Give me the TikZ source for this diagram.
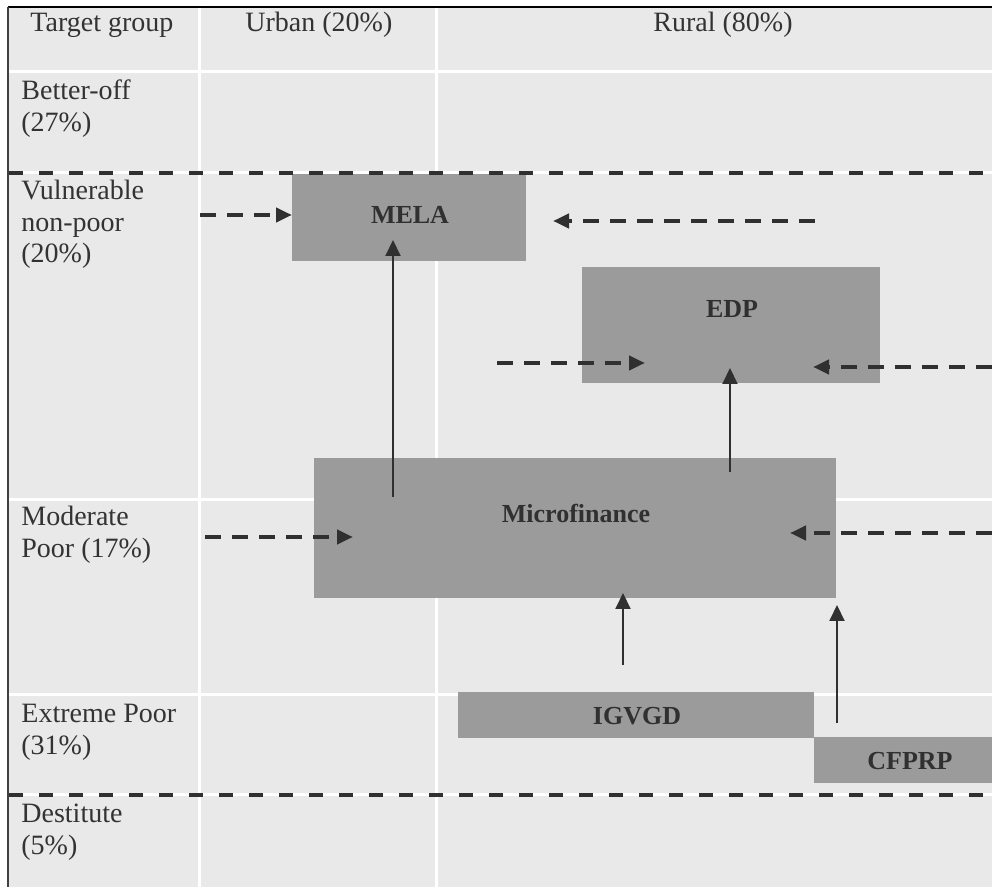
\documentclass[tikz,border=0pt]{standalone}
\usepackage{fontspec}
\setmainfont{Liberation Serif}
\usetikzlibrary{arrows.meta}
\definecolor{bgc}{HTML}{E9E9E9}
\definecolor{boxc}{HTML}{9B9B9B}
\definecolor{ink}{HTML}{303030}
\definecolor{txt}{HTML}{333333}
\begin{document}
\begin{tikzpicture}[x=0.5pt,y=-0.5pt,
  rowlbl/.style={anchor=base west, inner sep=0pt, text=txt, font=\fontsize{14}{15.75}\selectfont},
  boxlbl/.style={anchor=base, inner sep=0pt, text=ink, font=\fontsize{13}{15}\selectfont\bfseries},
  pbox/.style={fill=boxc, draw=none, anchor=north west, inner sep=0pt, outer sep=0pt},
  gridline/.style={white, line width=1.5pt},
  sepline/.style={ink, line width=2pt, dash pattern=on 7pt off 8pt},
  darr/.style={ink, line width=2pt, dash pattern=on 8pt off 5.5pt, -{Triangle[length=8pt,width=7pt]}},
  sarr/.style={ink, line width=1pt, -{Triangle[length=8pt,width=7.5pt]}},
]
\useasboundingbox (0,0) rectangle (992,887);
\fill[white] (0,0) rectangle (992,887);
\fill[bgc] (8,8) rectangle (992,887);
% frame
\draw[black, line width=1pt] (992,7) -- (8,7);
\draw[black!75, line width=1pt] (8,7) -- (8,887);
% white table rules
\foreach \gx in {199,436} \draw[gridline] (\gx,8) -- (\gx,887);
\foreach \gy in {72,173,500,695,795} \draw[gridline] (9,\gy) -- (992,\gy);
% programme boxes
\node[pbox, minimum width=117pt, minimum height=43.5pt] (mela) at (292,174) {};
\node[pbox, minimum width=149pt, minimum height=58pt] (edp) at (582,267) {};
\node[pbox, minimum width=261pt, minimum height=70pt] (micro) at (314,458) {};
\node[pbox, minimum width=178pt, minimum height=23pt] (igvgd) at (458,692) {};
\node[pbox, minimum width=89pt, minimum height=23pt] (cfprp) at (814,737) {};
% dashed separators
\draw[sepline] (9,173) -- (992,173);
\draw[sepline] (9,795) -- (992,795);
% box labels
\node[boxlbl] (melat) at (410,224) {MELA};
\node[boxlbl] (edpt) at (732,318) {EDP};
\node[boxlbl] (microt) at (576,523) {Microfinance};
\node[boxlbl] (igvgdt) at (637,725) {IGVGD};
\node[boxlbl] (cfprpt) at (910,770) {CFPRP};
% dashed arrows (targeting)
\coordinate (m1s) at (200,215);
\draw[darr] (m1s) -- (m1s -| mela.west);
\coordinate (m2s) at (815,221); \coordinate (m2e) at (553,221);
\draw[darr] (m2s) -- (m2e);
\coordinate (e1s) at (497,363); \coordinate (e1e) at (645,363);
\draw[darr] (e1s) -- (e1e);
\coordinate (e2s) at (992,367); \coordinate (e2e) at (813,367);
\draw[darr] (e2s) -- (e2e);
\coordinate (f1s) at (205,537); \coordinate (f1e) at (353,537);
\draw[darr] (f1s) -- (f1e);
\coordinate (f2s) at (992,533); \coordinate (f2e) at (790,533);
\draw[darr] (f2s) -- (f2e);
% solid graduation arrows
\coordinate (g1s) at (393,497); \coordinate (g1e) at (393,240);
\draw[sarr] (g1s) -- (g1e);
\coordinate (g2s) at (730,472); \coordinate (g2e) at (730,368);
\draw[sarr] (g2s) -- (g2e);
\coordinate (g3s) at (623,665); \coordinate (g3e) at (623,593);
\draw[sarr] (g3s) -- (g3e);
\coordinate (g4s) at (837,723); \coordinate (g4e) at (837,605);
\draw[sarr] (g4s) -- (g4e);
% header
\node[rowlbl] (tg) at (30,32) {Target group};
\node[rowlbl] (urb) at (245,32) {Urban (20\%)};
\node[rowlbl] (rur) at (653,32) {Rural (80\%)};
% row labels
\node[rowlbl] (bo) at (21,100) {\begin{tabular}[t]{@{}l@{}}Better-off\\(27\%)\end{tabular}};
\node[rowlbl] (vn) at (21,200) {\begin{tabular}[t]{@{}l@{}}Vulnerable\\non-poor\\(20\%)\end{tabular}};
\node[rowlbl] (mp) at (21,526) {\begin{tabular}[t]{@{}l@{}}Moderate\\Poor (17\%)\end{tabular}};
\node[rowlbl] (ep) at (21,723) {\begin{tabular}[t]{@{}l@{}}Extreme Poor\\(31\%)\end{tabular}};
\node[rowlbl] (de) at (21,823) {\begin{tabular}[t]{@{}l@{}}Destitute\\(5\%)\end{tabular}};
\end{tikzpicture}
\end{document}
